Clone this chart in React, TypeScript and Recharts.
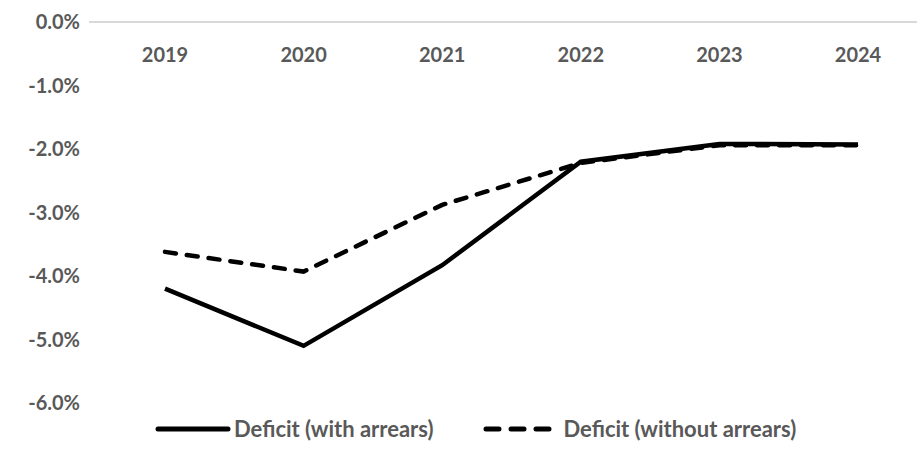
import React from 'react';
import { LineChart, Line, XAxis, YAxis, Legend } from 'recharts';

const YEARS = ['2019', '2020', '2021', '2022', '2023', '2024'];
const WITH_ARREARS = [-4.2, -5.1, -3.83, -2.2, -1.92, -1.93];
const WITHOUT_ARREARS = [-3.62, -3.93, -2.88, -2.22, -1.94, -1.94];
const Y_TICKS = [0, -1, -2, -3, -4, -5, -6];

const data = YEARS.map((year, i) => ({
  year,
  withArrears: WITH_ARREARS[i],
  withoutArrears: WITHOUT_ARREARS[i],
}));

const FONT = 'Lato, "Open Sans", sans-serif';
const GREY = '#595959';

const LegendContent = () => (
  <div
    style={{
      display: 'flex',
      justifyContent: 'flex-start',
      alignItems: 'center',
      fontFamily: FONT,
      fontWeight: 700,
      fontSize: 22,
      color: GREY,
      paddingTop: 14,
      paddingLeft: 155,
      lineHeight: '24px',
    }}
  >
    <svg width={76} height={10} style={{ marginRight: 3 }}>
      <line x1={3} y1={5} x2={73} y2={5} stroke="#000" strokeWidth={5} strokeLinecap="round" />
    </svg>
    <span style={{ marginRight: 48 }}>Deficit (with arrears)</span>
    <svg width={76} height={10} style={{ marginRight: 6 }}>
      <line x1={4} y1={5} x2={72} y2={5} stroke="#000" strokeWidth={5} strokeLinecap="round" strokeDasharray="13 12" />
    </svg>
    <span>Deficit (without arrears)</span>
  </div>
);

export default function App() {
  return (
    <div style={{ position: 'absolute', left: 0, top: 0, width: 917, height: 465, background: '#fff' }}>
      <LineChart width={917} height={465} data={data} margin={{ top: 21, right: 0, left: 0, bottom: 22 }}>
        <XAxis
          dataKey="year"
          orientation="top"
          height={1}
          axisLine={{ stroke: '#d9d9d9', strokeWidth: 2 }}
          tickLine={false}
          tickSize={0}
          tickMargin={0}
          interval={0}
          padding={{ left: 76, right: 59 }}
          tick={{ fill: GREY, fontSize: 20, fontWeight: 700, fontFamily: FONT, dy: 40 }}
        />
        <YAxis
          domain={[-6, 0]}
          ticks={Y_TICKS}
          width={89}
          axisLine={false}
          tickLine={false}
          tickSize={0}
          tickMargin={9}
          tickFormatter={(v: number) => `${v.toFixed(1)}%`}
          tick={{ fill: GREY, fontSize: 20, fontWeight: 700, fontFamily: FONT }}
        />
        <Legend verticalAlign="bottom" height={40} content={<LegendContent />} />
        <Line
          dataKey="withArrears"
          stroke="#000"
          strokeWidth={4.5}
          dot={false}
          isAnimationActive={false}
        />
        <Line
          dataKey="withoutArrears"
          stroke="#000"
          strokeWidth={4.5}
          strokeDasharray="11 11"
          strokeLinecap="round"
          dot={false}
          isAnimationActive={false}
        />
      </LineChart>
    </div>
  );
}
